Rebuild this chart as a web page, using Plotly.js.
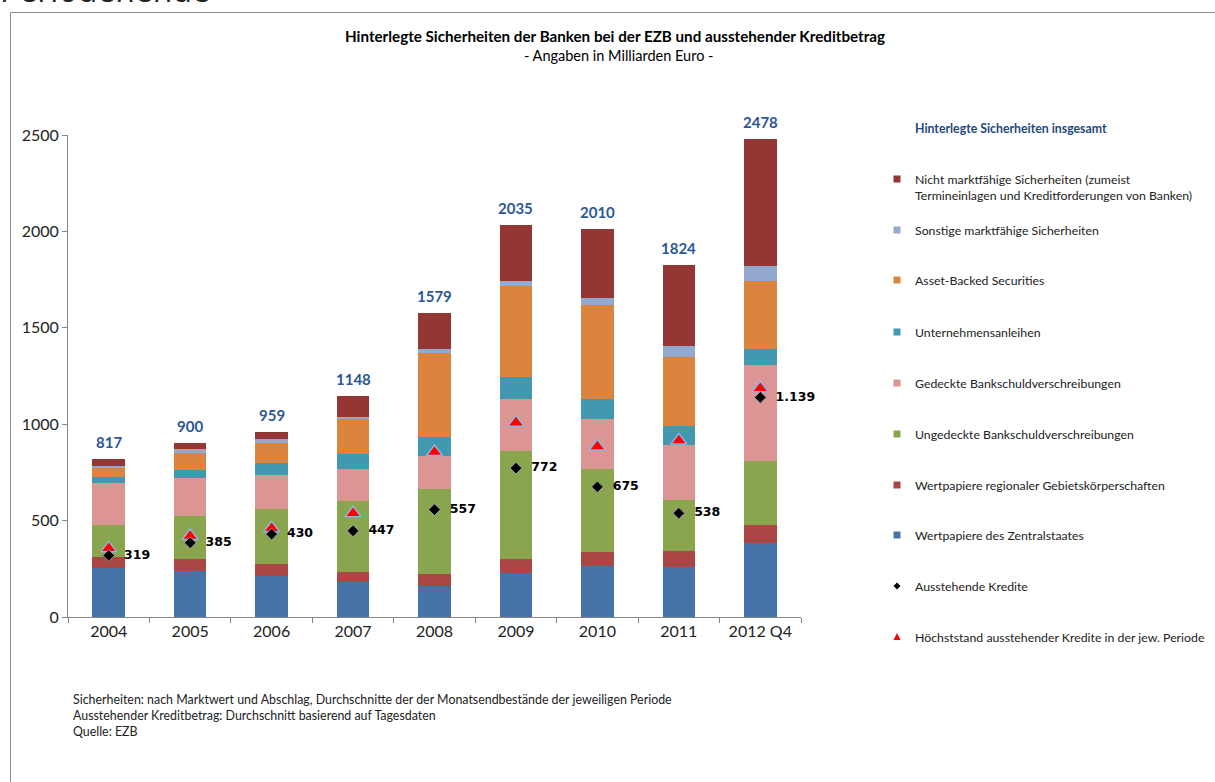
<!DOCTYPE html>
<html>
<head>
<meta charset="utf-8">
<script src="https://cdn.plot.ly/plotly-3.0.1.min.js"></script>
<style>
html,body{margin:0;padding:0;background:#fff;}
#chart{width:1215px;height:782px;}
</style>
</head>
<body>
<div id="chart"></div>
<script>
// ---- data ----
const categories = ["2004","2005","2006","2007","2008","2009","2010","2011","2012 Q4"];

const seriesNames = [
  "Wertpapiere des Zentralstaates",
  "Wertpapiere regionaler Gebietskörperschaften",
  "Ungedeckte Bankschuldverschreibungen",
  "Gedeckte Bankschuldverschreibungen",
  "Unternehmensanleihen",
  "Asset-Backed Securities",
  "Sonstige marktfähige Sicherheiten",
  "Nicht marktfähige Sicherheiten (zumeist<br>Termineinlagen und Kreditforderungen von Banken)"
];
const zentralstaat   = [256, 239, 211, 182, 163, 230, 265, 259, 382];
const regional       = [ 57,  62,  62,  53,  60,  72,  74,  85,  94];
const ungedeckt      = [166, 225, 289, 368, 439, 561, 427, 264, 333];
const gedeckt        = [216, 195, 175, 163, 175, 268, 261, 284, 497];
const unternehmen    = [ 30,  41,  62,  79,  95, 115, 104,  99,  83];
const abs            = [ 46,  87, 102, 180, 439, 471, 489, 356, 355];
const sonstige       = [ 14,  21,  21,  14,  17,  26,  35,  59,  75];
const nichtMarkt     = [ 32,  30,  37, 109, 191, 292, 355, 418, 659];

const totals         = [817, 900, 959, 1148, 1579, 2035, 2010, 1824, 2478];
const kredite        = [319, 385, 430, 447, 557, 772, 675, 538, 1139];
const hoechststand   = [356, 420, 460, 538, 856, 1008, 884, 915, 1186];

const seriesValues = [zentralstaat, regional, ungedeckt, gedeckt, unternehmen, abs, sonstige, nichtMarkt];
const colors = ["#4572A7","#AA4643","#89A54E","#DB9694","#4198AF","#DB843D","#93A9CF","#943634"];

// ---- helpers (pixel -> paper) ----
const L = 68, R = 801, T = 135, B = 617;
const px = x => (x - L) / (R - L);
const py = y => (B - y) / (B - T);
function fmtDE(v){ return v >= 1000 ? Math.floor(v/1000) + "." + String(v % 1000).padStart(3, "0") : String(v); }

const FONT = "Lato, 'Open Sans', sans-serif";
const traces = [];
seriesValues.forEach((vals, i) => {
  traces.push({
    type: "bar", x: categories, y: vals, name: seriesNames[i],
    marker: {color: colors[i], line: {width: 0}},
    showlegend: false, hoverinfo: "y+name"
  });
});
// peak triangles
traces.push({
  type: "scatter", mode: "markers", x: categories, y: hoechststand,
  marker: {symbol: "triangle-up", size: 14, color: "#FF0000", line: {color: "#8EB4E3", width: 1.5}},
  showlegend: false, name: "Höchststand", cliponaxis: false
});
// outstanding credit diamonds
traces.push({
  type: "scatter", mode: "markers+text", x: categories, y: kredite,
  text: kredite.map(v => "\u00a0\u00a0" + fmtDE(v)), textposition: "middle right",
  textfont: {family: "'DejaVu Sans', sans-serif", size: 12.5, color: "#000", weight: "bold"},
  marker: {symbol: "diamond", size: 9, color: "#000", line: {color: "#9A95B5", width: 1}},
  showlegend: false, name: "Ausstehende Kredite", cliponaxis: false
});

const annotations = [];
const shapes = [];

// totals labels above bars (x given as category index)
totals.forEach((t, i) => annotations.push({
  xref: "x", yref: "y", x: i, y: t, yanchor: "bottom", xanchor: "center", yshift: 6,
  text: "<b>" + t + "</b>", showarrow: false, font: {family: FONT, size: 15, color: "#2B5797"}
}));

// ---- legend (custom) ----
const legendX = 913, markX = 897, LF = 12.3;
annotations.push({xref:"paper", yref:"paper", x: px(legendX), y: py(128), xanchor:"left", yanchor:"middle",
  text:"<b>Hinterlegte Sicherheiten insgesamt</b>", showarrow:false, font:{family:FONT, size:LF, color:"#1F497D"}});
const legendOrder = [7,6,5,4,3,2,1,0];
const legendY = [179, 230, 280, 332, 383, 434, 485, 535];
legendOrder.forEach((si, k) => {
  const y = legendY[k];
  const twoLine = si === 7;
  annotations.push({xref:"paper", yref:"paper", x: px(legendX), y: py(twoLine ? y - 9 : y), xanchor:"left", yanchor: twoLine ? "top" : "middle",
    text: seriesNames[si], align:"left", showarrow:false, font:{family:FONT, size:LF, color:"#222"}});
  shapes.push({type:"rect", xref:"paper", yref:"paper", x0: px(markX-3.5), x1: px(markX+3.5), y0: py(y+3.5), y1: py(y-3.5),
    fillcolor: colors[si], line:{width:0}});
});
annotations.push({xref:"paper", yref:"paper", x: px(legendX), y: py(586), xanchor:"left", yanchor:"middle",
  text:"Ausstehende Kredite", showarrow:false, font:{family:FONT, size:LF, color:"#222"}});
shapes.push({type:"path", xref:"paper", yref:"paper",
  path:`M ${px(markX)} ${py(582.5)} L ${px(markX+3.5)} ${py(586)} L ${px(markX)} ${py(589.5)} L ${px(markX-3.5)} ${py(586)} Z`,
  fillcolor:"#000", line:{width:0}});
annotations.push({xref:"paper", yref:"paper", x: px(legendX), y: py(637), xanchor:"left", yanchor:"middle",
  text:"Höchststand ausstehender Kredite in der jew. Periode", showarrow:false, font:{family:FONT, size:LF, color:"#222"}});
shapes.push({type:"path", xref:"paper", yref:"paper",
  path:`M ${px(markX)} ${py(633)} L ${px(markX+3.5)} ${py(640)} L ${px(markX-3.5)} ${py(640)} Z`,
  fillcolor:"#FF0000", line:{width:0}});

// ---- titles & notes ----
annotations.push({xref:"paper", yref:"paper", x: px(615), y: py(36), xanchor:"center", yanchor:"middle",
  text:"<b>Hinterlegte Sicherheiten der Banken bei der EZB und ausstehender Kreditbetrag</b>", showarrow:false,
  font:{family:FONT, size:15.2, color:"#000"}});
annotations.push({xref:"paper", yref:"paper", x: px(619), y: py(56), xanchor:"center", yanchor:"middle",
  text:"- Angaben in Milliarden Euro -", showarrow:false, font:{family:FONT, size:14.5, color:"#000"}});
const notes = ["Sicherheiten: nach Marktwert und Abschlag, Durchschnitte der der Monatsendbestände der jeweiligen Periode",
  "Ausstehender Kreditbetrag: Durchschnitt basierend auf Tagesdaten", "Quelle: EZB"];
notes.forEach((t, i) => annotations.push({xref:"paper", yref:"paper", x: px(71), y: py(699 + 16*i), xanchor:"left", yanchor:"middle",
  text: t, showarrow:false, font:{family:FONT, size:12.4, color:"#222"}}));
// cut-off page heading at top
annotations.push({xref:"paper", yref:"paper", x: px(-2), y: py(13), xanchor:"left", yanchor:"bottom",
  text:"Periodenende", showarrow:false, font:{family:"'Open Sans', sans-serif", size:32, color:"#222"}});

// outer frame
shapes.push({type:"rect", xref:"paper", yref:"paper", x0: px(10.5), x1: px(1230), y0: py(12.5), y1: py(800),
  line:{color:"#8C8C8C", width:1}, fillcolor:"rgba(0,0,0,0)", layer:"below"});

const layout = {
  width: 1215, height: 782,
  margin: {l: L, r: 1215 - R, t: T, b: 782 - B, pad: 0},
  paper_bgcolor: "#fff", plot_bgcolor: "#fff",
  barmode: "stack", bargap: 0.6,
  showlegend: false,
  font: {family: FONT, color: "#222"},
  xaxis: {type: "category", range: [-0.5, 8.5], autorange: false, showline: true, linecolor: "#868686", linewidth: 1,
    ticks: "outside", tickson: "boundaries", ticklen: 5, tickcolor: "#868686",
    tickfont: {family: FONT, size: 16, color: "#222"}, showgrid: false, zeroline: false, fixedrange: true},
  yaxis: {range: [0, 2500], dtick: 500, showline: true, linecolor: "#868686", linewidth: 1,
    ticks: "outside", ticklen: 5, tickcolor: "#868686", showgrid: false, zeroline: false,
    tickfont: {family: FONT, size: 16, color: "#222"}, fixedrange: true},
  annotations: annotations, shapes: shapes
};

Plotly.newPlot("chart", traces, layout, {displayModeBar: false, staticPlot: true});
</script>
</body>
</html>
